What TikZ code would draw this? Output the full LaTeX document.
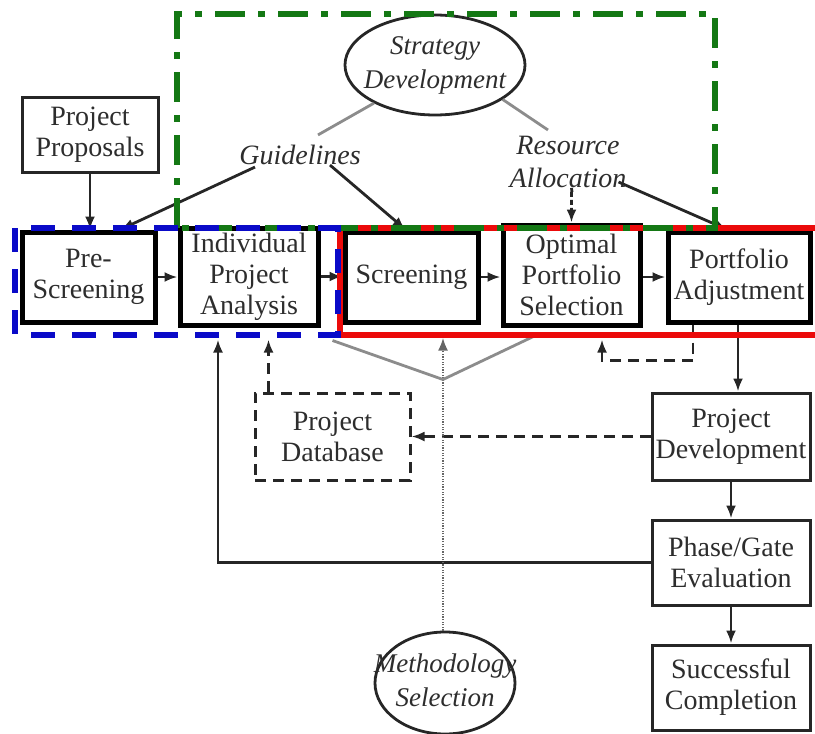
\documentclass[tikz,border=0pt]{standalone}
\usepackage{fontspec}
\setmainfont{Liberation Serif}
\usetikzlibrary{shapes.geometric,arrows.meta,calc}
\definecolor{frgreen}{RGB}{20,120,20}
\definecolor{frblue}{RGB}{10,10,200}
\definecolor{frred}{RGB}{235,10,10}
\definecolor{txt}{RGB}{45,45,45}
\newcommand{\ovaltext}[1]{\makebox[0pt]{\begin{tabular}{@{}c@{}}#1\end{tabular}}}
\begin{document}
\begin{tikzpicture}[x=1pt,y=-1pt,
  basefont/.style={font=\fontsize{28}{31}\selectfont, text=txt},
  thickbox/.style={draw, line width=5pt, align=center, inner sep=0pt, basefont},
  thinbox/.style={draw, line width=3pt, align=center, inner sep=0pt, basefont, draw=black!85},
  oval/.style={ellipse, draw, line width=2.8pt, inner sep=0pt, basefont, font=\fontsize{27}{34}\selectfont\itshape, draw=black!85},
  lbl/.style={align=center, inner sep=0pt, basefont, font=\fontsize{28}{33}\selectfont\itshape},
  arr/.style={-{Latex[length=13pt,width=10pt]}, line width=2.8pt, draw=black!85},
  greyline/.style={line width=2.8pt, draw=black!45},
  loopdash/.style={dash pattern=on 11pt off 7pt},
  dotline/.style={dash pattern=on 1.3pt off 1.3pt, draw=black!60},
  greenframe/.style={draw=frgreen, line width=5.5pt, dash pattern=on 30pt off 13pt on 7pt off 13pt},
  blueframe/.style={draw=frblue, line width=6pt, dash pattern=on 24pt off 17pt},
  redframe/.style={draw=frred, line width=5.5pt}
]
\useasboundingbox (0,0) rectangle (815,734);

% nodes
\node[thinbox, minimum width=136pt, minimum height=75pt] (prop) at (90,134.5) {Project\\Proposals};
\node[thickbox, minimum width=133pt, minimum height=90pt] (pre) at (88.5,277) {Pre-\\Screening};
\node[thickbox, minimum width=138pt, minimum height=97pt] (ipa) at (249,276.5) {Individual\\Project\\Analysis};
\node[thickbox, minimum width=133pt, minimum height=90pt] (scr) at (411.5,277) {Screening};
\node[thickbox, minimum width=137pt, minimum height=100pt] (ops) at (571.5,275) {Optimal\\Portfolio\\Selection};
\node[thickbox, minimum width=142pt, minimum height=90pt] (padj) at (739,277) {Portfolio\\Adjustment};
\node[thinbox, minimum width=158pt, minimum height=87pt] (pdev) at (731,436.5) {Project\\Development};
\node[thinbox, minimum width=158pt, minimum height=85pt] (pge) at (731,562.5) {Phase/Gate\\Evaluation};
\node[thinbox, minimum width=158pt, minimum height=85pt] (sc) at (731,687.5) {Successful\\Completion};
\node[thinbox, loopdash, minimum width=155pt, minimum height=87pt] (db) at (332.5,436.5) {Project\\Database};
\node[oval, minimum width=180pt, minimum height=100pt] (strat) at (435,65) {\ovaltext{Strategy\\Development}};
\node[oval, minimum width=140pt, minimum height=102pt] (meth) at (445,683) {\ovaltext{Methodology\\Selection}};
\node[lbl] (guid) at (300,155) {Guidelines};
\node[lbl] (res) at (568,162) {Resource\\Allocation};

\coordinate (ipab) at ($(ipa.south)+(0,12)$);
\coordinate (scrb) at ($(scr.south)+(0,13)$);
\coordinate (opsb) at ($(ops.south)+(30.5,12)$);
\coordinate (dbt) at ($(db.north west)+(15,0)$);
\coordinate (methd) at ($(meth.north)+(-2,0)$);
\coordinate (padjs) at ($(padj.south)+(-1,0)$);
\coordinate (padjl) at ($(padj.south)+(-46,0)$);

% top connectors
\draw[arr] (prop.south) -- (prop.south |- pre.north);
\draw[arr] (pre.east) -- (pre.east -| ipa.west);
\draw[arr] (ipa.east) -- (ipa.east -| scr.west);
\draw[arr] (scr.east) -- (scr.east -| ops.west);
\draw[arr] ($(ops.east)+(0,2)$) -- ($(ops.east -| padj.west)+(0,2)$);
\draw[greyline] (strat.212) -- ($(guid.north)+(18,-10)$);
\draw[arr] ($(guid.south)+(-45,2)$) -- ($(pre.north)+(32,0)$);
\draw[arr] ($(guid.south)+(30,0)$) -- ($(scr.north)+(-6,0)$);
\draw[greyline] (strat.333) -- ($(res.north)+(-20,-6)$);
\draw[arr] ($(res.south east)+(-8,-6)$) -- ($(padj.north)+(-12,0)$);
\draw[arr, dash pattern=on 5pt off 3pt] ($(res.south)+(4,4)$) -- (res.south -| ops.north) -- (ops.north);

% lower connectors
\draw[arr] (padjs) -- (padjs |- pdev.north);
\draw[arr] (pdev.south) -- (pge.north);
\draw[arr] (pge.south) -- (sc.north);
\draw[arr, loopdash] (pdev.west) -- (db.east);
\draw[arr, loopdash] (dbt) -- (dbt |- ipab);
\draw[arr] (pge.west) -| ($(ipab)+(-31,0)$);
\draw[arr, dotline] (methd) -- (methd |- scrb);
\coordinate (J) at ($(methd |- scr.south)+(0,55)$);
\draw[greyline] (J) -- ($(ipa.south east)+(12,13)$);
\draw[greyline] (J) -- ($(ops.south)+(-36,8)$);
\draw[arr, loopdash] (padjl) -- ++(0,36) -| (opsb);

% coloured frames
\begin{scope}
\clip (0,0) rectangle (815,734);
\draw[redframe] (830,228) -- (340,228) -- (340,335) -- (830,335);
\end{scope}
\draw[greenframe] (177,228) -- (177,14) -- (715,14) -- (715,228) -- cycle;
\draw[blueframe] (15,228) rectangle (338,335);
\end{tikzpicture}
\end{document}
